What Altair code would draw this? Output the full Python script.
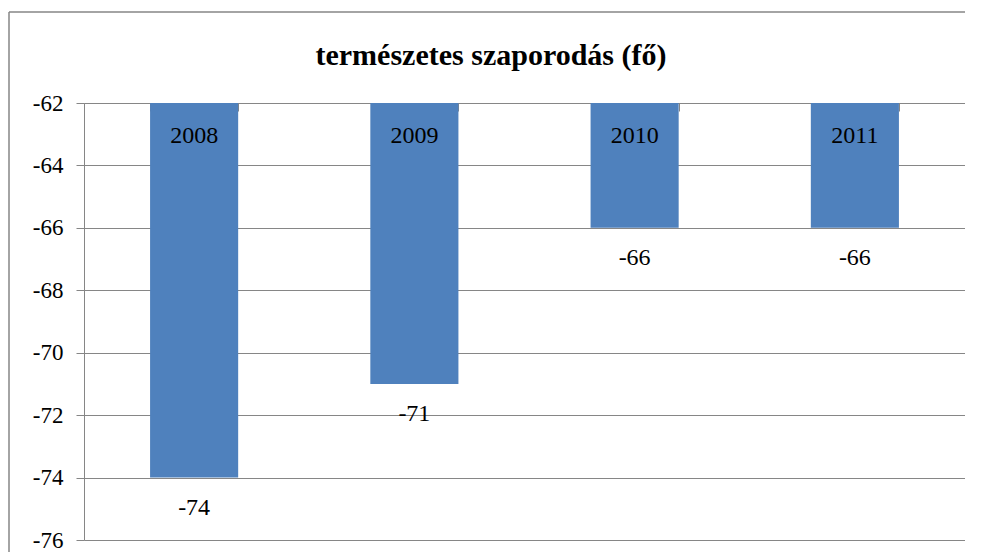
import altair as alt
import pandas as pd

years = ["2008", "2009", "2010", "2011"]
values = [-74, -71, -66, -66]
y_ticks = [-62, -64, -66, -68, -70, -72, -74, -76]
title_text = "természetes szaporodás (fő)"

df = pd.DataFrame({"year": years, "value": values})

FONT = "Liberation Serif"
GRAY = "#868686"
BLUE = "#4F81BD"
FS = 23

x_enc = alt.X(
    "year:N",
    sort=years,
    scale=alt.Scale(paddingInner=0.6, paddingOuter=0.3),
    axis=alt.Axis(
        orient="bottom", offset=-437, labels=False, title=None,
        tickBand="extent", tickSize=8, tickColor=GRAY, domainColor=GRAY,
        grid=False, domainWidth=1,
    ),
)
y_scale = alt.Scale(domain=[-76, -62], nice=False, zero=False)

base = alt.Chart(df).transform_calculate(label="toString(datum.value)")

bars = base.mark_bar(color=BLUE).encode(
    x=x_enc,
    y=alt.Y(
        "value:Q", scale=y_scale,
        axis=alt.Axis(
            values=y_ticks, title=None, labelFont=FONT, labelFontSize=FS,
            labelColor="black", labelPadding=13, tickSize=8, tickColor=GRAY,
            domainColor=GRAY, gridColor=GRAY, gridWidth=1,
            labelExpr="toString(datum.value)",
        ),
    ),
    y2=alt.datum(-62),
)

year_labels = base.mark_text(
    font=FONT, fontSize=FS + 1, color="black", baseline="middle", dy=33
).encode(
    x=alt.X("year:N", sort=years),
    y=alt.datum(-62),
    text="year:N",
)

value_labels = base.mark_text(
    font=FONT, fontSize=FS + 1, color="black", baseline="middle", dy=30
).encode(
    x=alt.X("year:N", sort=years),
    y=alt.Y("value:Q"),
    text="label:N",
)

frame_df = pd.DataFrame({"k": [0]})
frame_top = alt.Chart(frame_df).mark_rule(color=GRAY, strokeWidth=1.5).encode(
    x=alt.value(-75), x2=alt.value(900), y=alt.value(-91)
)
frame_left = alt.Chart(frame_df).mark_rule(color=GRAY, strokeWidth=1.5).encode(
    x=alt.value(-75), y=alt.value(-91), y2=alt.value(500)
)

title = alt.Chart(pd.DataFrame({"t": [title_text]})).mark_text(
    font=FONT, fontSize=30, fontWeight="bold", color="black", baseline="middle"
).encode(
    x=alt.value(407), y=alt.value(-47), text="t:N"
)

chart = alt.layer(frame_top, frame_left, bars, year_labels, value_labels, title).properties(
    width=881, height=437,
    autosize=alt.AutoSizeParams(type="none"),
    padding={"left": 76, "top": 95, "right": 0, "bottom": 12},
).configure_view(strokeWidth=0, stroke="transparent").configure(background="white")

chart.save("out.html", embed_options={"renderer": "svg", "actions": False})
